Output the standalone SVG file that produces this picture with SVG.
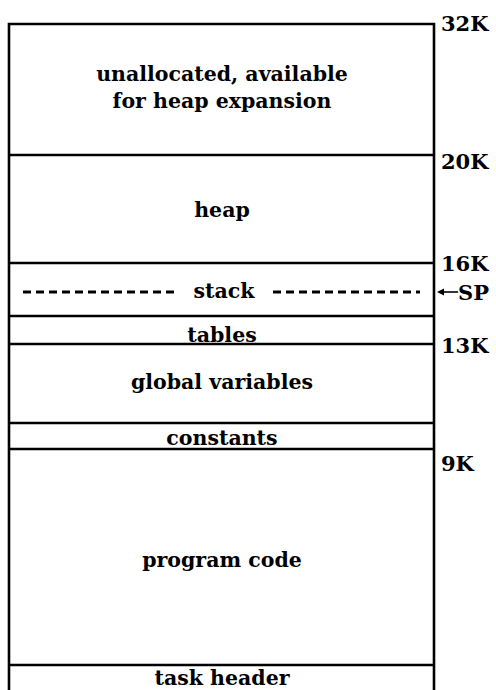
<svg xmlns="http://www.w3.org/2000/svg" width="496" height="690" viewBox="0 0 496 690">
<style>
.ln{stroke:#000;stroke-width:2.6;fill:none}
.t{font-family:"DejaVu Serif","Liberation Serif",serif;font-weight:bold;font-size:20.5px;text-anchor:middle;fill:#000}
.k{font-family:"DejaVu Serif","Liberation Serif",serif;font-weight:bold;font-size:21px;fill:#000}
.d{stroke:#000;stroke-width:2.8;stroke-dasharray:8,5}
</style>
<rect width="496" height="690" fill="#fff"/>
<g id="connectors">
<path class="ln" d="M9,700 V24 H434 V700"/>
<line class="ln" x1="9" y1="155" x2="434" y2="155"/>
<line class="ln" x1="9" y1="263" x2="434" y2="263"/>
<line class="ln" x1="9" y1="316" x2="434" y2="316"/>
<line class="ln" x1="9" y1="344" x2="434" y2="344"/>
<line class="ln" x1="9" y1="423" x2="434" y2="423"/>
<line class="ln" x1="9" y1="449" x2="434" y2="449"/>
<line class="ln" x1="9" y1="665" x2="434" y2="665"/>
<line class="d" x1="23" y1="292" x2="176" y2="292"/>
<line class="d" x1="273" y1="292" x2="420" y2="292"/>
<line stroke="#000" stroke-width="1.6" x1="441" y1="292" x2="458" y2="292"/>
<path d="M437,292 L444,288.5 L444,295.5 Z" fill="#000"/>
</g>
<g id="unallocated"><text class="t" x="222" y="81">unallocated, available</text><text class="t" x="222" y="108">for heap expansion</text></g>
<g id="heap"><text class="t" x="222" y="217">heap</text></g>
<g id="stack"><text class="t" x="224" y="298">stack</text></g>
<g id="tables"><text class="t" x="222" y="342">tables</text></g>
<g id="globals"><text class="t" x="222" y="389">global variables</text></g>
<g id="constants"><text class="t" x="222" y="445">constants</text></g>
<g id="program"><text class="t" x="222" y="567">program code</text></g>
<g id="taskheader"><text class="t" x="222" y="685">task header</text></g>
<g id="labels">
<text class="k" x="441" y="31">32K</text>
<text class="k" x="441" y="169">20K</text>
<text class="k" x="441" y="271">16K</text>
<text class="k" x="458" y="300">SP</text>
<text class="k" x="441" y="353">13K</text>
<text class="k" x="441" y="471">9K</text>
</g>
</svg>
